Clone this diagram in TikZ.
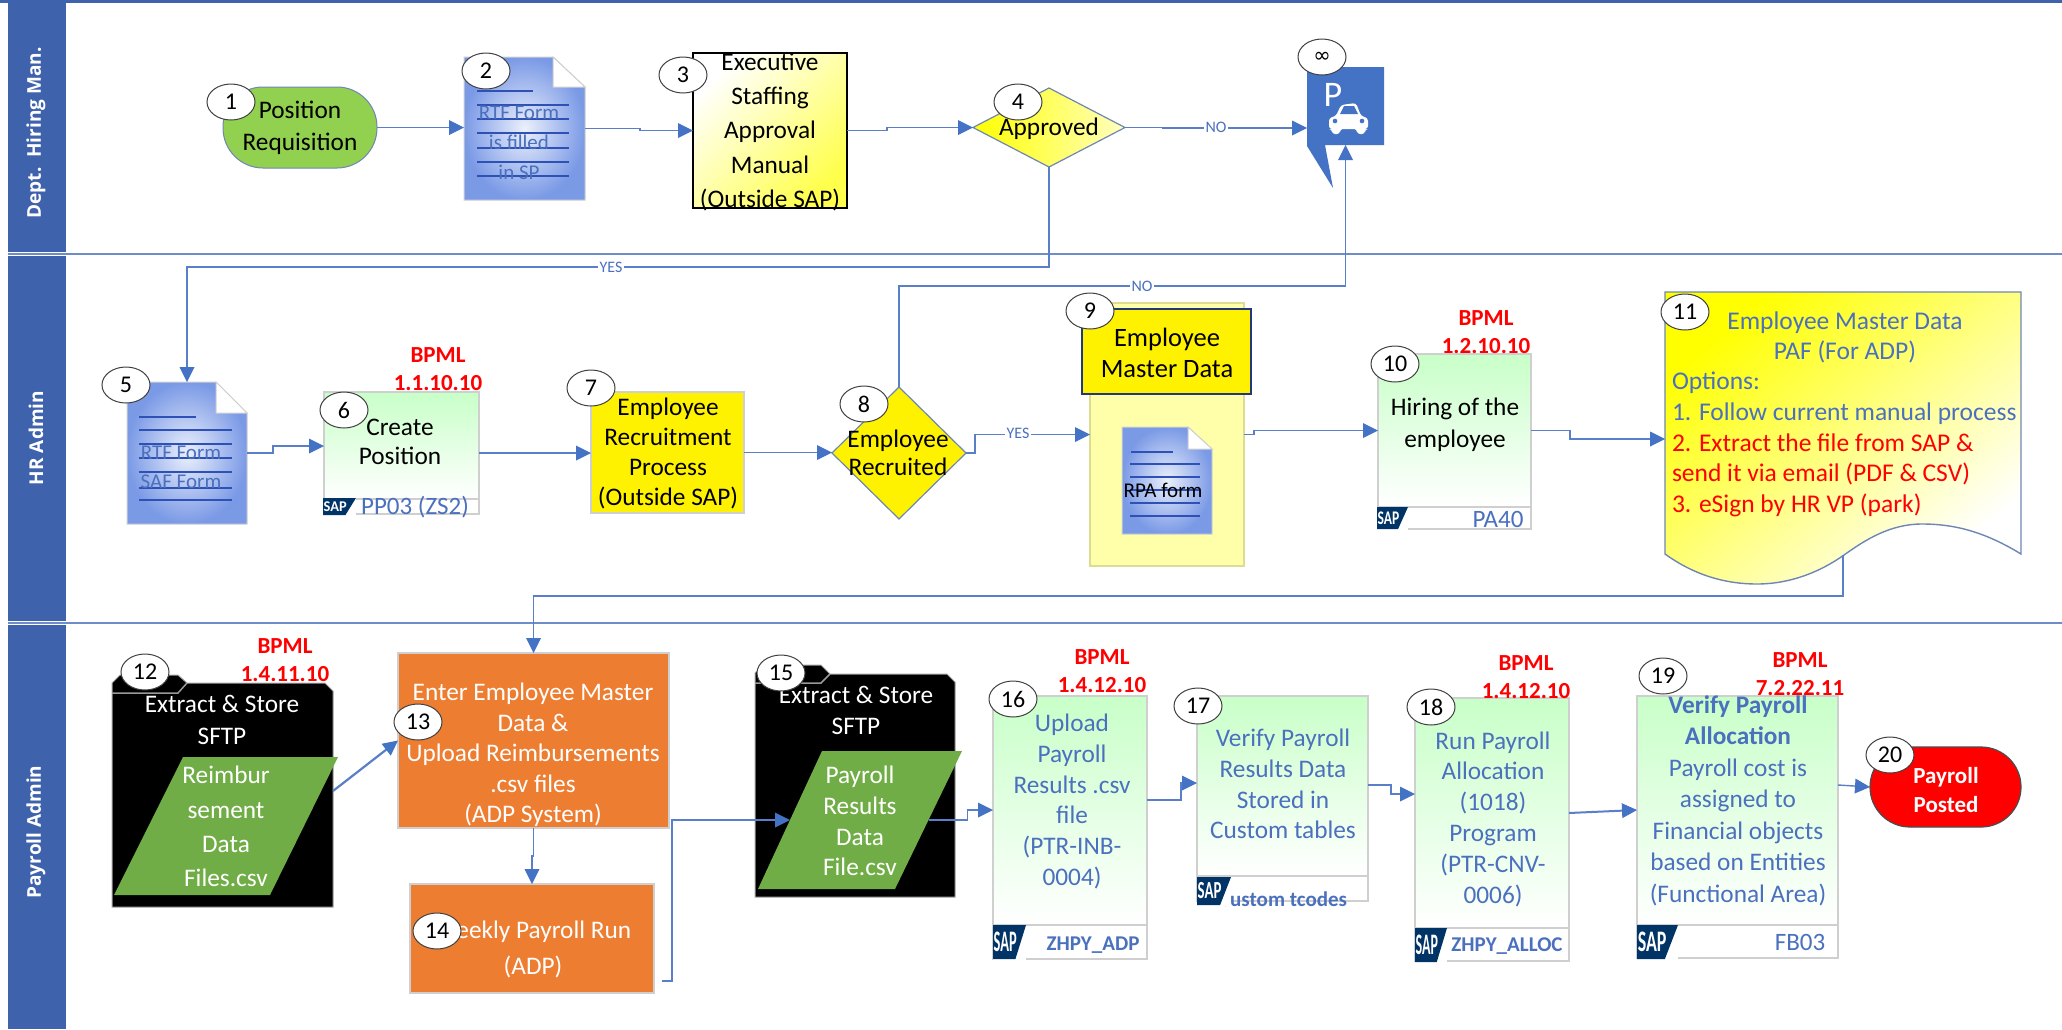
\documentclass[tikz,border=0pt]{standalone}
\usepackage{fontspec}
\setmainfont{Carlito}
\newfontfamily\osans{Open Sans}
\newfontfamily\djv{DejaVu Sans}
\usetikzlibrary{arrows.meta,shapes.geometric,calc}
\definecolor{bandblue}{HTML}{3F62AD}
\definecolor{laneline}{HTML}{6E8CC8}
\definecolor{linkblue}{HTML}{4472C4}
\definecolor{linkline}{HTML}{5A7FC9}
\definecolor{textblue}{HTML}{4A70BE}
\definecolor{docblue}{HTML}{7B9AE6}
\definecolor{docline}{HTML}{2F50B4}
\definecolor{boxgray}{HTML}{CFCFCF}
\definecolor{greentop}{HTML}{C8FFC8}
\definecolor{orangebox}{HTML}{ED7D31}
\definecolor{greenpar}{HTML}{70AD47}
\definecolor{reqgreen}{HTML}{92D050}
\definecolor{sapnavy}{HTML}{003366}
\definecolor{edgeblue}{HTML}{6F86B5}
\definecolor{paleyellow}{HTML}{FFFFAA}
\tikzset{
  anch/.style={rectangle,inner sep=0pt,outer sep=0pt,draw=none,fill=none},
  conn/.style={draw=linkline,line width=1.4pt,-{Triangle[length=15pt,width=15pt,fill=linkblue,line width=0pt]}},
  lane/.style={draw=laneline,line width=2pt},
  band/.style={fill=bandblue,draw=none},
  bandtext/.style={rotate=90,text=white,font=\osans\bfseries\fontsize{19}{24}\selectfont},
  stepnum/.style={ellipse,draw=black!75,fill=white,line width=1pt,inner sep=0pt,outer sep=0pt,minimum width=48pt,minimum height=36pt,font=\fontsize{24}{28}\selectfont},
  lab/.style={align=center,inner sep=0pt,outer sep=0pt},
  edgelab/.style={fill=white,inner sep=1.5pt,text=textblue,font=\fontsize{16}{18}\selectfont},
  bpml/.style={align=center,inner sep=0pt,text=red,font=\bfseries\fontsize{23}{28}\selectfont},
  yellowshape/.style={draw=edgeblue,line width=1.2pt},
  sapbody/.style={draw=boxgray,line width=1.5pt,top color=greentop,bottom color=white},
  sapfoot/.style={draw=boxgray,line width=1.5pt,fill=white},
  plainbox/.style={draw=boxgray,line width=1.2pt},
}
\newcommand\anchorbox[5]{\node[anch,minimum width={(#4-(#2))*1pt},minimum height={(#5-#3)*1pt}] (#1) at ({(#2+#4)/2},{(#3+#5)/2}) {};}
\newcommand\stepmark[4]{\node[stepnum] (#1) at (#2,#3) {#4};}
% name x0 y0 x1 y1 foldx foldy
\newcommand\docshape[7]{%
  \path[draw=boxgray,line width=1pt,inner color=white!85!docblue,outer color=docblue] (#2,#3)--(#6,#3)--(#4,#7)--(#4,#5)--(#2,#5)--cycle;
  \path[draw=boxgray,line width=1pt,fill=white] (#6,#3)--(#6,#7)--(#4,#7)--cycle;
  \anchorbox{#1}{#2}{#3}{#4}{#5}}
% name x0 tabtop top x1 y1 tabright
\newcommand\folder[7]{%
  \path[fill=black,draw=black!35,line width=1pt] (#2,#3+8)--(#2+8,#3)--(#7-9,#3)--(#7,#4)--(#5-8,#4)--(#5,#4+8)--(#5,#6)--(#2,#6)--cycle;
  \path[draw=black!40,line width=1.5pt] (#2,#3+18)--(#7-9,#3+18)--(#7,#4);
  \anchorbox{#1}{#2}{#3}{#5}{#6}}
% name topleft topright y0 y1 botleft botright
\newcommand\datapar[7]{%
  \path[fill=greenpar,draw=none] (#2,#4)--(#3,#4)--(#7,#5)--(#6,#5)--cycle;
  \anchorbox{#1}{(#2+#6)/2}{#4}{(#3+#7)/2}{#5}}
% name x0 y0 x1 yf y1
\newcommand\sapbox[6]{%
  \path[sapbody] (#2,#3) rectangle (#4,#5);
  \path[sapfoot] (#2,#5) rectangle (#4,#6);
  \anchorbox{#1}{#2}{#3}{#4}{#6}}
\newcommand\saplogo[5]{%
  \path[fill=white,draw=none] (#2,#3) rectangle (#4,#5+1);
  \path[fill=sapnavy,draw=none] (#2,#3)--(#4,#3)--({#2+0.68*(#4-#2)},#5)--(#2,#5)--cycle;
  \pgfmathsetlengthmacro\logoW{(#4-#2)*0.70}%
  \pgfmathsetlengthmacro\logoH{(#5-#3)*0.58}%
  \node[inner sep=0pt,text=white,font=\bfseries] (#1) at ({#2+0.37*(#4-#2)},{(#3+#5)/2}) {\resizebox*{\logoW}{\logoH}{SAP}};}
\begin{document}
\begin{tikzpicture}[x=1pt,y=-1pt]
\useasboundingbox (0,0) rectangle (2062,1029);
\fill[white] (0,0) rectangle (2062,1029);
% lanes
\fill[band] (8,3) rectangle (66,252);
\fill[band] (8,256) rectangle (66,621);
\fill[band] (8,625) rectangle (66,1029);
\draw[draw=bandblue,line width=3pt] (0,1.5) -- (2062,1.5);
\draw[lane] (8,254) -- (2062,254);
\draw[lane] (8,623) -- (2062,623);
\node[bandtext] (b1) at (36,133) {Dept.\ \ Hiring Man.};
\node[bandtext] (b2) at (36,438) {HR Admin};
\node[bandtext] (b3) at (36,832) {Payroll Admin};

% lane 1 shapes
\node[anch,rounded corners=40pt,fill=reqgreen,draw=edgeblue,line width=1pt,minimum width=154pt,minimum height=81pt] (n1) at (300,127.5) {};
\docshape{n2}{464}{57}{585}{200}{553}{87}
\foreach \yy in {105,119,133,148,162,176} \draw[docline,line width=1.2pt] (477,\yy) -- (569,\yy);
\draw[docline,line width=1.2pt] (477,91) -- (533,91);
\path[draw=black,line width=1.2pt,top color=white,bottom color=yellow!70,shading angle=45] (693,53) rectangle (847,208);
\anchorbox{n3}{693}{53}{847}{208}
\node[diamond,aspect=1.9,inner sep=0pt,outer sep=0pt,minimum width=152pt,minimum height=79pt,yellowshape,left color=yellow,right color=yellow!25] (n4) at (1049,127.5) {};
% parking sign
\path[fill=linkblue] (1307,67)--(1384,67)--(1384,145)--(1325,145)--(1333,188)--(1307,146)--cycle;
\anchorbox{P}{1307}{67}{1384}{145}
\node[anch,text=white,font=\fontsize{36}{40}\selectfont] (Pletter) at (1333,95) {P};
\path[fill=white,rounded corners=3pt] (1329,129)--(1329,118)--(1336,116)--(1341,105)--(1356,103)--(1361,116)--(1368,118)--(1368,129)--(1365,129)--(1365,134)--(1357,134)--(1357,129)--(1340,129)--(1340,134)--(1332,134)--(1332,129)--cycle;
\path[fill=linkblue] (1340,114)--(1344,106)--(1354,106)--(1358,114)--cycle;
\fill[linkblue] (1335,121) circle (2.3);
\fill[linkblue] (1362,121) circle (2.3);

% lane 2 shapes
\docshape{n5}{127}{382}{247}{524}{216}{413}
\foreach \yy in {430,444,458,472,488,500} \draw[docline,line width=1.2pt] (139,\yy) -- (232,\yy);
\draw[docline,line width=1.2pt] (139,417) -- (196,417);
\sapbox{n6}{324}{392}{479}{499}{514}
\node[anch,plainbox,fill=yellow,minimum width=153pt,minimum height=121pt] (n7) at (667.5,452.5) {};
\node[diamond,inner sep=0pt,outer sep=0pt,minimum width=134pt,minimum height=132pt,yellowshape,fill=yellow] (n8) at (899,453) {};
\path[draw=boxgray!70!yellow,line width=1.2pt,fill=paleyellow] (1090,303) rectangle (1244,566);
\anchorbox{n9}{1090}{303}{1244}{566}
\node[anch,draw=docline!70!black,line width=1.2pt,fill=yellow,minimum width=169pt,minimum height=85pt] (h9) at (1166.5,351.5) {};
\docshape{d9}{1122}{427}{1212}{534}{1188}{449}
\foreach \yy in {464,477,490,503,516} \draw[docline,line width=1.2pt] (1130,\yy) -- (1200,\yy);
\draw[docline,line width=1.2pt] (1131,452) -- (1173,452);
\sapbox{n10}{1378}{354}{1531}{507}{529}
\path[draw=edgeblue,line width=1.4pt,top color=yellow,bottom color=white,shading angle=40] (1665,292)--(2021,292)--(2021,554) .. controls (1985,532) and (1955,524) .. (1922,524) .. controls (1890,524) and (1865,540) .. (1844,555) .. controls (1820,572) and (1790,584) .. (1757,584) .. controls (1720,584) and (1690,572) .. (1665,554) -- cycle;
\anchorbox{n11}{1665}{292}{2021}{555}

% lane 3 shapes
\folder{n12}{112}{675}{683}{333}{907}{187}
\datapar{p12}{183}{338}{757}{895}{114}{270}
\node[anch,plainbox,fill=orangebox,minimum width=271pt,minimum height=175pt] (n13) at (533.5,740.5) {};
\node[anch,plainbox,fill=orangebox,minimum width=244pt,minimum height=109pt] (n14) at (532,938.5) {};
\folder{n15}{755}{665}{674}{955}{897}{830}
\datapar{p15}{822}{962}{751}{889}{758}{895}
\sapbox{n16}{993}{696}{1147}{925}{959}
\sapbox{n17}{1197}{696}{1368}{876}{901}
\sapbox{n18}{1415}{698}{1569}{928}{961}
\sapbox{n19}{1637}{696}{1838}{925}{958}
\node[anch,rounded corners=40pt,fill=red,draw=black!70,line width=1.2pt,minimum width=151pt,minimum height=80pt] (n20) at (1945.5,787) {};

% connectors
\draw[conn] (n1.east) -- (n1.east -| n2.west);
\draw[conn] (n2.east) -- ++(55,0) |- (n3.west);
\draw[conn] (n3.east) -- ++(40,0) |- (n4.west);
\draw[conn] (n4.east) -- ++(38,0) |- ($(P.west)+(0,22)$);
\draw[conn] (n4.south) -- ++(0,100) -| (n5.north);
\draw[conn] (n5.east) -- ++(26,0) -- ++(0,-7) -- ($(n6.west)+(0,-7)$);
\draw[conn] (n6.east) -- (n6.east -| n7.west);
\draw[conn] (n7.east) -- (n7.east -| n8.west);
\draw[conn] (n8.north) -- ++(0,-101) -| (P.south);
\draw[conn] (n8.east) -- ++(9,0) |- (n9.west);
\draw[conn] (n9.east) -- ++(10,0) |- ($(n10.west)+(0,-11)$);
\draw[conn] ($(n10.east)+(0,-11)$) -- ++(39,0) |- ($(n11.west)+(0,15.5)$);
\draw[conn] (n11.south) -- ++(0,41) -| (n13.north);
\draw[conn,line width=2.2pt] (n12.east) -- (n13.west);
\draw[conn] (n13.south) -- ++(0,28) -| (n14.north);
\draw[conn] ($(n14.east)+(8,42.5)$) -- ++(10,0) |- (p15.west);
\draw[conn] (p15.east) -- ++(39,0) |- ($(n16.west)+(0,-17.5)$);
\draw[conn] ($(n16.east)+(0,-27.5)$) -- ++(34,0) |- ($(n17.west)+(0,-15.5)$);
\draw[conn] ($(n17.east)+(0,-13.5)$) -- ++(23,0) |- ($(n18.west)+(0,-35.5)$);
\draw[conn,line width=2pt] ($(n18.east)+(0,-16.5)$) -- ($(n19.west)+(0,-17)$);
\draw[conn] ($(n19.east)+(0,-42)$) -- (n20.west);
\node[edgelab] (lno1) at (1216,127) {NO};
\node[edgelab] (lyes1) at (611,267) {YES};
\node[edgelab] (lno2) at (1142,286) {NO};
\node[edgelab] (lyes2) at (1018,433) {YES};

% texts lane 1
\node[lab,font=\fontsize{25.3}{32}\selectfont] (t1) at (300,128) {Position\\Requisition};
\node[lab,text=textblue,font=\fontsize{21}{30}\selectfont] (t2) at (519,142.5) {RTF Form\\is filled\\in SP};
\node[lab,font=\fontsize{25.3}{34.2}\selectfont] (t3) at (770,132) {Executive\\Staffing\\Approval\\Manual\\(Outside SAP)};
\node[lab,font=\fontsize{25.3}{28}\selectfont] (t4) at (1049,129) {Approved};
% texts lane 2
\node[lab,text=textblue,font=\fontsize{21}{29}\selectfont] (t5) at (181,467.5) {RTF Form\\SAF Form};
\node[lab,font=\fontsize{25.3}{29}\selectfont] (t6) at (400,441.5) {Create\\Position};
\node[bpml] (b6) at (438,369) {BPML\\1.1.10.10};
\node[lab,text=textblue,font=\fontsize{25}{26}\selectfont] (f6) at (415,507) {PP03 (ZS2)};
\node[lab,font=\fontsize{25.3}{30}\selectfont] (t7) at (668,453) {Employee\\Recruitment\\Process\\(Outside SAP)};
\node[lab,font=\fontsize{25.3}{28}\selectfont] (t8) at (898,453) {Employee\\Recruited};
\node[lab,font=\fontsize{26.5}{31}\selectfont] (t9) at (1167,352.5) {Employee\\Master Data};
\node[lab,font=\fontsize{21}{24}\selectfont] (t9b) at (1163,490) {RPA form};
\node[lab,font=\fontsize{25.3}{32}\selectfont] (t10) at (1455,425) {Hiring of the\\employee};
\node[bpml] (b10) at (1486,332) {BPML\\1.2.10.10};
\node[lab,text=textblue,font=\fontsize{25}{26}\selectfont] (f10) at (1498,519) {PA40};
\node[lab,text=textblue,font=\fontsize{25.5}{30}\selectfont] (t11a) at (1845,337) {Employee Master Data\\PAF (For ADP)};
\node[lab,anchor=west,align=left,font=\fontsize{25.5}{30.6}\selectfont] (t11b) at (1672,444.5) {\textcolor{textblue}{Options:}\\\textcolor{textblue}{1. Follow current manual process}\\\textcolor{red}{2. Extract the file from SAP \&}\\\textcolor{red}{send it via email (PDF \& CSV)}\\\textcolor{red}{3. eSign by HR VP (park)}};
% texts lane 3
\node[lab,text=white,font=\fontsize{25.3}{32}\selectfont] (t12) at (222,720) {Extract \& Store\\SFTP};
\node[bpml] (b12) at (285,660.5) {BPML\\1.4.11.10};
\node[lab,text=white,font=\fontsize{25.3}{34.2}\selectfont] (t12b) at (226,826.5) {Reimbur\\sement\\Data\\Files.csv};
\node[lab,text=white,font=\fontsize{25.3}{30.5}\selectfont] (t13) at (533,755) {Enter Employee Master\\Data \&\\Upload Reimbursements\\.csv files\\(ADP System)};
\node[lab,text=white,font=\fontsize{25.3}{36}\selectfont] (t14) at (533,949) {Weekly Payroll Run\\(ADP)};
\node[lab,text=white,font=\fontsize{25.3}{31}\selectfont] (t15) at (856,710.5) {Extract \& Store\\SFTP};
\node[lab,text=white,font=\fontsize{25.3}{30.7}\selectfont] (t15b) at (860,821) {Payroll\\Results\\Data\\File.csv};
\node[lab,text=textblue,font=\fontsize{25.3}{30.7}\selectfont] (t16) at (1072,801.5) {Upload\\Payroll\\Results .csv\\file\\(PTR-INB-\\0004)};
\node[bpml] (b16) at (1102,671) {BPML\\1.4.12.10};
\node[lab,text=textblue,font=\bfseries\fontsize{21}{22}\selectfont] (f16) at (1093,945) {ZHPY\_ADP};
\node[lab,text=textblue,font=\fontsize{25.3}{30.7}\selectfont] (t17) at (1283,784) {Verify Payroll\\Results Data\\Stored in\\Custom tables};
\node[lab,anchor=east,text=textblue,font=\bfseries\fontsize{21}{22}\selectfont] (f17) at (1347,899) {Custom tcodes};
\node[lab,text=textblue,font=\fontsize{25.3}{30.8}\selectfont] (t18) at (1493,819) {Run Payroll\\Allocation\\(1018)\\Program\\(PTR-CNV-\\0006)};
\node[bpml] (b18) at (1526,677) {BPML\\1.4.12.10};
\node[lab,text=textblue,font=\bfseries\fontsize{21}{22}\selectfont] (f18) at (1507,946) {ZHPY\_ALLOC};
\node[lab,text=textblue,font=\fontsize{25.3}{31.5}\selectfont] (t19) at (1738,800.5) {\textbf{Verify Payroll}\\\textbf{Allocation}\\Payroll cost is\\assigned to\\Financial objects\\based on Entities\\(Functional Area)};
\node[bpml] (b19) at (1800,674.5) {BPML\\7.2.22.11};
\node[lab,text=textblue,font=\fontsize{25}{26}\selectfont] (f19) at (1800,942) {FB03};
\node[lab,text=white,font=\bfseries\fontsize{23}{29}\selectfont] (t20) at (1946,790) {Payroll\\Posted};

% SAP logos
\saplogo{s6}{323}{498}{356}{515}
\saplogo{s10}{1377}{507}{1408}{529}
\saplogo{s16}{993}{925}{1026}{959}
\saplogo{s17}{1197}{877}{1231}{905}
\saplogo{s18}{1415}{928}{1447}{962}
\saplogo{s19}{1637}{925}{1678}{959}

% step marks
\stepmark{c1}{231}{102}{1}
\stepmark{c2}{486}{71}{2}
\stepmark{c3}{683}{75}{3}
\stepmark{c4}{1018}{102}{4}
\node[stepnum,font=\djv\fontsize{21}{24}\selectfont] (cinf) at (1322,57) {∞};
\stepmark{c5}{126}{385}{5}
\stepmark{c6}{344}{410}{6}
\stepmark{c7}{591}{388}{7}
\stepmark{c8}{864}{404}{8}
\stepmark{c9}{1090}{311}{9}
\stepmark{c10}{1395}{364}{10}
\stepmark{c11}{1685}{312}{11}
\stepmark{c12}{145}{672}{12}
\stepmark{c13}{418}{722}{13}
\stepmark{c14}{437}{931}{14}
\stepmark{c15}{781}{673}{15}
\stepmark{c16}{1013}{699}{16}
\stepmark{c17}{1198}{706}{17}
\stepmark{c18}{1431}{707}{18}
\stepmark{c19}{1663}{676}{19}
\stepmark{c20}{1890}{755}{20}
\end{tikzpicture}
\end{document}
